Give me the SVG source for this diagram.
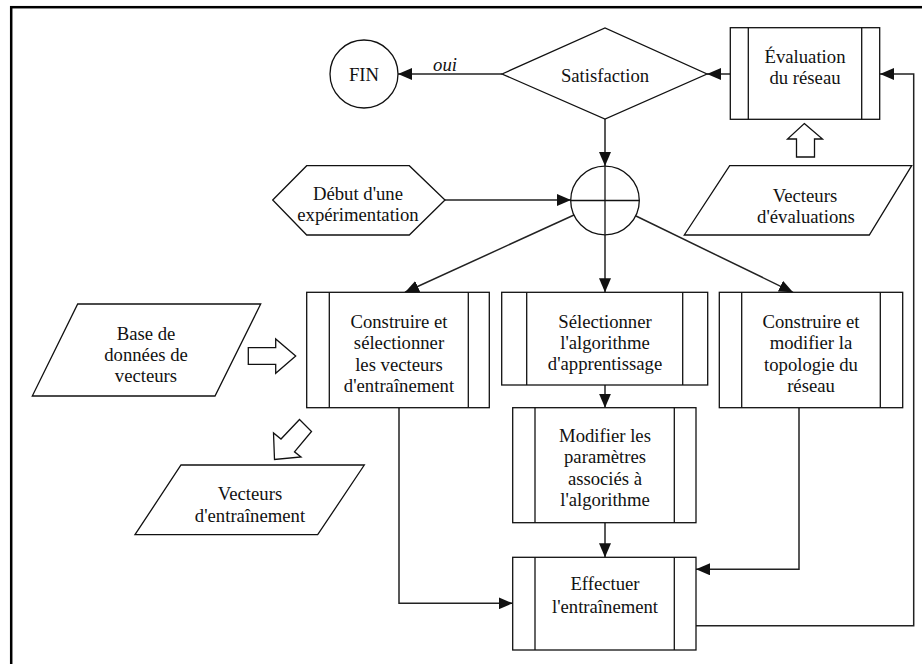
<svg xmlns="http://www.w3.org/2000/svg" width="922" height="664" viewBox="0 0 922 664">
  <defs>
    <marker id="arrow" markerUnits="userSpaceOnUse" markerWidth="14" markerHeight="12" refX="14" refY="6" orient="auto">
      <path d="M0,0 L14,6 L0,12 z" fill="#111"/>
    </marker>
    <style>
      .shape { fill: #fff; stroke: #111; stroke-width: 1.3; }
      .bar { fill: none; stroke: #111; stroke-width: 1.3; }
      .edge { fill: none; stroke: #222; stroke-width: 1.5; marker-end: url(#arrow); }
      .lbl { font-family: "Liberation Serif", "Times New Roman", serif; font-size: 18.7px; fill: #111; text-anchor: middle; }
      .it { font-style: italic; }
    </style>
  </defs>

  <rect width="922" height="664" fill="#fff"/>
  <!-- frame -->
  <rect x="11.2" y="7.2" width="930" height="680" fill="none" stroke="#000" stroke-width="2.5"/>

  <!-- connectors -->
  <g id="connectors">
    <line class="edge" x1="502" y1="74" x2="398" y2="74"/>
    <text class="lbl it" x="445" y="71">oui</text>
    <line class="edge" x1="730" y1="74" x2="707" y2="74"/>
    <line class="edge" x1="605" y1="119" x2="605" y2="166"/>
    <line class="edge" x1="445" y1="200" x2="571" y2="200"/>
    <line class="edge" x1="605" y1="235" x2="605" y2="292.3"/>
    <line class="edge" x1="574" y1="215" x2="405" y2="292.3"/>
    <line class="edge" x1="636" y1="216" x2="793" y2="292.3"/>
    <line class="edge" x1="605" y1="385" x2="605" y2="407.7"/>
    <line class="edge" x1="605" y1="522.7" x2="605" y2="557.3"/>
    <polyline class="edge" points="799,407.7 799,569.3 696,569.3"/>
    <polyline class="edge" points="399,407.7 399,603.3 512.7,603.3"/>
    <polyline class="edge" points="696,625.7 913.7,625.7 913.7,74 880,74"/>
  </g>

  <!-- FIN -->
  <g id="fin">
    <circle class="shape" cx="364" cy="74" r="34"/>
    <text class="lbl" x="364" y="80.5">FIN</text>
  </g>

  <!-- Satisfaction decision -->
  <g id="satisfaction">
    <polygon class="shape" points="502,74 605,28 707,74 605,119"/>
    <text class="lbl" x="605" y="81.5">Satisfaction</text>
  </g>

  <!-- Évaluation du réseau -->
  <g id="evaluation">
    <rect class="shape" x="730.3" y="27.7" width="149.4" height="91.6"/>
    <line class="bar" x1="748.3" y1="27.7" x2="748.3" y2="119.3"/>
    <line class="bar" x1="861.7" y1="27.7" x2="861.7" y2="119.3"/>
    <text class="lbl" x="805" y="63">Évaluation</text>
    <text class="lbl" x="805" y="84">du réseau</text>
  </g>

  <!-- hollow arrow: evaluation vectors into evaluation -->
  <g id="feed-eval">
    <polygon class="shape" points="804.3,123.5 822.5,139 814.5,139 814.5,157 796.5,157 796.5,139 787.5,139"/>
  </g>

  <!-- Vecteurs d'évaluations -->
  <g id="vecteurs-eval">
    <polygon class="shape" points="729.7,165.7 911.7,165.7 869.3,235 684.3,235"/>
    <text class="lbl" x="805" y="201.5">Vecteurs</text>
    <text class="lbl" x="806" y="222.5">d'évaluations</text>
  </g>

  <!-- junction -->
  <g id="junction">
    <circle class="shape" cx="605" cy="200.5" r="34.3"/>
    <line class="bar" x1="570.7" y1="200.5" x2="639.3" y2="200.5"/>
    <line class="bar" x1="605" y1="166.2" x2="605" y2="234.8"/>
  </g>

  <!-- Début d'une expérimentation -->
  <g id="debut">
    <polygon class="shape" points="272.7,200 306.7,165.7 409.3,165.7 445,200 409.3,235 306.7,235"/>
    <text class="lbl" x="358" y="200">Début d'une</text>
    <text class="lbl" x="358" y="221">expérimentation</text>
  </g>

  <!-- Base de données de vecteurs -->
  <g id="base-donnees">
    <polygon class="shape" points="77.7,304 260.7,304 215,396 32.3,396"/>
    <text class="lbl" x="146" y="339.5">Base de</text>
    <text class="lbl" x="146" y="361">données de</text>
    <text class="lbl" x="146" y="382">vecteurs</text>
  </g>

  <!-- hollow arrow: database into selection -->
  <g id="feed-base">
    <polygon class="shape" points="248.3,347.7 275.7,347.7 275.7,339 295.7,356 275.7,373.3 275.7,364.3 248.3,364.3"/>
  </g>

  <!-- Construire et sélectionner les vecteurs -->
  <g id="construire-selectionner">
    <rect class="shape" x="306.7" y="292.3" width="182.6" height="115.4"/>
    <line class="bar" x1="329.3" y1="292.3" x2="329.3" y2="407.7"/>
    <line class="bar" x1="468.3" y1="292.3" x2="468.3" y2="407.7"/>
    <text class="lbl" x="399" y="327.5">Construire et</text>
    <text class="lbl" x="399" y="349">sélectionner</text>
    <text class="lbl" x="399" y="370.5">les vecteurs</text>
    <text class="lbl" x="399" y="392">d'entraînement</text>
  </g>

  <!-- hollow arrow: selection out to training vectors -->
  <g id="feed-out">
    <polygon class="shape" points="299.5,419.5 311.5,431.5 294.5,451.8 301,457 274.5,459.5 273.5,433 281,439"/>
  </g>

  <!-- Vecteurs d'entraînement -->
  <g id="vecteurs-entrainement">
    <polygon class="shape" points="181,465 364.3,465 317.7,534.7 135,534.7"/>
    <text class="lbl" x="250" y="499.5">Vecteurs</text>
    <text class="lbl" x="250" y="521.5">d'entraînement</text>
  </g>

  <!-- Sélectionner l'algorithme -->
  <g id="selectionner-algo">
    <rect class="shape" x="501.7" y="292.3" width="206" height="92.7"/>
    <line class="bar" x1="526.7" y1="292.3" x2="526.7" y2="385"/>
    <line class="bar" x1="682.7" y1="292.3" x2="682.7" y2="385"/>
    <text class="lbl" x="605" y="327.5">Sélectionner</text>
    <text class="lbl" x="605" y="348.5">l'algorithme</text>
    <text class="lbl" x="605" y="369.5">d'apprentissage</text>
  </g>

  <!-- Construire et modifier la topologie -->
  <g id="construire-topologie">
    <rect class="shape" x="719.3" y="292.3" width="183.4" height="115.4"/>
    <line class="bar" x1="741.7" y1="292.3" x2="741.7" y2="407.7"/>
    <line class="bar" x1="880.3" y1="292.3" x2="880.3" y2="407.7"/>
    <text class="lbl" x="811" y="327.5">Construire et</text>
    <text class="lbl" x="811" y="349">modifier la</text>
    <text class="lbl" x="811" y="370.5">topologie du</text>
    <text class="lbl" x="811" y="392">réseau</text>
  </g>

  <!-- Modifier les paramètres -->
  <g id="modifier-parametres">
    <rect class="shape" x="512.7" y="407.7" width="183.3" height="115"/>
    <line class="bar" x1="535" y1="407.7" x2="535" y2="522.7"/>
    <line class="bar" x1="674.3" y1="407.7" x2="674.3" y2="522.7"/>
    <text class="lbl" x="605" y="441.5">Modifier les</text>
    <text class="lbl" x="605" y="463">paramètres</text>
    <text class="lbl" x="605" y="484.5">associés à</text>
    <text class="lbl" x="605" y="506">l'algorithme</text>
  </g>

  <!-- Effectuer l'entraînement -->
  <g id="effectuer">
    <rect class="shape" x="512.7" y="557.3" width="183.3" height="92.7"/>
    <line class="bar" x1="535" y1="557.3" x2="535" y2="650"/>
    <line class="bar" x1="674.3" y1="557.3" x2="674.3" y2="650"/>
    <text class="lbl" x="605" y="590">Effectuer</text>
    <text class="lbl" x="605" y="612.5">l'entraînement</text>
  </g>
</svg>
